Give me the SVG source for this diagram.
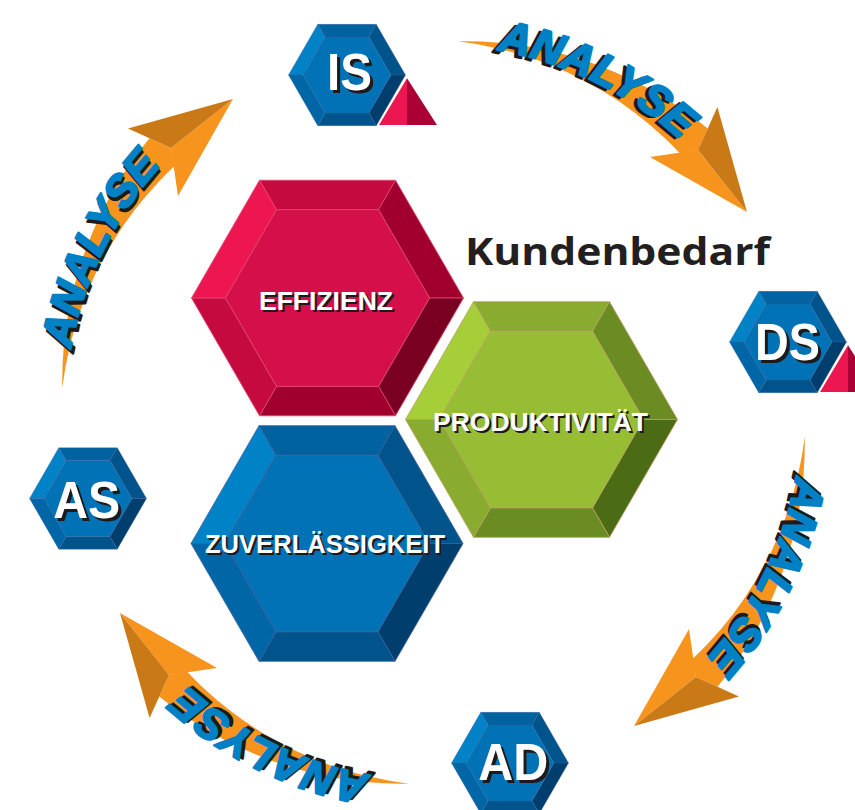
<svg xmlns="http://www.w3.org/2000/svg" xmlns:xlink="http://www.w3.org/1999/xlink" width="855" height="810" viewBox="0 0 855 810">
<style>
.hx polygon{stroke-width:0.8;stroke-linejoin:round}
.red polygon{stroke:#E0486E}
.red .t{fill:#C40A3F}.red .tr{fill:#A1002F}.red .br{fill:#7A0021}.red .b{fill:#A1002F}.red .bl{fill:#C40A3F}.red .tl{fill:#EE1651}.red .c{fill:#D40F4A}
.grn polygon{stroke:#B8A060}
.grn .t{fill:#89AB2F}.grn .tr{fill:#6B8B23}.grn .br{fill:#4C6B15}.grn .b{fill:#6B8B23}.grn .bl{fill:#89AB2F}.grn .tl{fill:#A6CE39}.grn .c{fill:#97BD34}
.blu polygon{stroke:#3A5E9A}
.blu .t{fill:#00629F}.blu .tr{fill:#00548C}.blu .br{fill:#003E6E}.blu .b{fill:#00548C}.blu .bl{fill:#0066A6}.blu .tl{fill:#0082C7}.blu .c{fill:#0072B5}
.lbl{font-family:"Liberation Sans",Arial,sans-serif;font-weight:bold;font-size:25.5px;text-anchor:middle}
.ab{font-size:51px}
.w{fill:#FFFFFF}
.sh{fill:#1E1A1B}
.an{font-family:"Liberation Sans",Arial,sans-serif;font-weight:bold;font-style:italic;font-size:44px;stroke-width:2.2;stroke-linejoin:round}
.anb{fill:#0080C5;stroke:#0080C5}
.ans{fill:#1E1A1B;stroke:#1E1A1B}
.ob{fill:#F7941E}
.od{fill:#C97A17}
.hx polygon.tri1{fill:#EC1651;stroke:none}
.hx polygon.tri2{fill:#AB0036;stroke:none}
.title{font-family:"Open Sans","Liberation Sans",sans-serif;font-weight:700;font-size:38px;fill:#231F20}
</style>
<defs>
<path id="tpb" d="M497.4,50.1 A368,368 0 0 1 715.4,176.0"/>
<path id="tps" d="M493.3,52.6 A365,365 0 0 1 713.1,177.9"/>
</defs>

<g id="connectors">
<g id="arrow1">
<path class="ob" d="M458.2,41.3 A376,376 0 0 1 498.7,42.7 A379,379 0 0 1 538.0,48.2 A382,382 0 0 1 576.8,58.0 A386,386 0 0 1 614.6,71.9 A389,389 0 0 1 651.2,89.8 A392,392 0 0 1 685.9,111.7 A394,394 0 0 1 707.7,128.5 L698,150 L680,153.5 A358,358 0 0 0 664.1,137.6 A360,360 0 0 0 635.4,113.2 A362,362 0 0 0 604.0,91.8 A364,364 0 0 0 570.4,73.7 A366,366 0 0 0 534.8,59.1 A369,369 0 0 0 497.7,48.4 A371,371 0 0 0 458.2,41.3 Z"/>
<polygon class="ob" points="650,157 747,212 698,150"/>
<polygon class="od" points="717.4,107 747,212 698,150"/>
<text class="an ans"><textPath href="#tps" xlink:href="#tps">ANALYSE</textPath></text>
<text class="an anb"><textPath href="#tpb" xlink:href="#tpb">ANALYSE</textPath></text>
</g>
<use href="#arrow1" xlink:href="#arrow1" transform="rotate(90 433.5 412.5)"/>
<use href="#arrow1" xlink:href="#arrow1" transform="rotate(180 433.5 412.5)"/>
<use href="#arrow1" xlink:href="#arrow1" transform="rotate(270 433.5 412.5)"/>
</g>

<g id="effizienz" class="hx red" transform="translate(327.5,298)">
<polygon class="t" points="-68,-117.8 68,-117.8 51,-88.3 -51,-88.3"/>
<polygon class="tr" points="68,-117.8 136,0 102,0 51,-88.3"/>
<polygon class="br" points="136,0 68,117.8 51,88.3 102,0"/>
<polygon class="b" points="68,117.8 -68,117.8 -51,88.3 51,88.3"/>
<polygon class="bl" points="-68,117.8 -136,0 -102,0 -51,88.3"/>
<polygon class="tl" points="-136,0 -68,-117.8 -51,-88.3 -102,0"/>
<polygon class="c" points="102,0 51,88.3 -51,88.3 -102,0 -51,-88.3 51,-88.3"/>
<text class="lbl sh" x="0.5" y="14" textLength="134" lengthAdjust="spacingAndGlyphs">EFFIZIENZ</text>
<text class="lbl w" x="-1.5" y="12" textLength="134" lengthAdjust="spacingAndGlyphs">EFFIZIENZ</text>
</g>

<g id="produktivitaet" class="hx grn" transform="translate(541.5,419.5)">
<polygon class="t" points="-68,-117.8 68,-117.8 51,-88.3 -51,-88.3"/>
<polygon class="tr" points="68,-117.8 136,0 102,0 51,-88.3"/>
<polygon class="br" points="136,0 68,117.8 51,88.3 102,0"/>
<polygon class="b" points="68,117.8 -68,117.8 -51,88.3 51,88.3"/>
<polygon class="bl" points="-68,117.8 -136,0 -102,0 -51,88.3"/>
<polygon class="tl" points="-136,0 -68,-117.8 -51,-88.3 -102,0"/>
<polygon class="c" points="102,0 51,88.3 -51,88.3 -102,0 -51,-88.3 51,-88.3"/>
<text class="lbl sh" x="1" y="13.5" textLength="215" lengthAdjust="spacingAndGlyphs">PRODUKTIVITÄT</text>
<text class="lbl w" x="-1" y="11.5" textLength="215" lengthAdjust="spacingAndGlyphs">PRODUKTIVITÄT</text>
</g>

<g id="zuverlaessigkeit" class="hx blu" transform="translate(327,543.5)">
<polygon class="t" points="-68,-117.8 68,-117.8 51,-88.3 -51,-88.3"/>
<polygon class="tr" points="68,-117.8 136,0 102,0 51,-88.3"/>
<polygon class="br" points="136,0 68,117.8 51,88.3 102,0"/>
<polygon class="b" points="68,117.8 -68,117.8 -51,88.3 51,88.3"/>
<polygon class="bl" points="-68,117.8 -136,0 -102,0 -51,88.3"/>
<polygon class="tl" points="-136,0 -68,-117.8 -51,-88.3 -102,0"/>
<polygon class="c" points="102,0 51,88.3 -51,88.3 -102,0 -51,-88.3 51,-88.3"/>
<text class="lbl sh" x="0" y="11.5" textLength="240" lengthAdjust="spacingAndGlyphs">ZUVERLÄSSIGKEIT</text>
<text class="lbl w" x="-2" y="9.5" textLength="240" lengthAdjust="spacingAndGlyphs">ZUVERLÄSSIGKEIT</text>
</g>

<g id="is" class="hx blu" transform="translate(347,75)">
<g transform="scale(0.43)">
<polygon class="t" points="-68,-117.8 68,-117.8 51,-88.3 -51,-88.3"/>
<polygon class="tr" points="68,-117.8 136,0 102,0 51,-88.3"/>
<polygon class="br" points="136,0 68,117.8 51,88.3 102,0"/>
<polygon class="b" points="68,117.8 -68,117.8 -51,88.3 51,88.3"/>
<polygon class="bl" points="-68,117.8 -136,0 -102,0 -51,88.3"/>
<polygon class="tl" points="-136,0 -68,-117.8 -51,-88.3 -102,0"/>
<polygon class="c" points="102,0 51,88.3 -51,88.3 -102,0 -51,-88.3 51,-88.3"/>
</g>
<polygon class="tri1" points="32,50 60,3.3 60,50"/>
<polygon class="tri2" points="60,3.3 90,50 60,50"/>
<text class="lbl ab sh" x="5.5" y="17.5" textLength="45" lengthAdjust="spacingAndGlyphs">IS</text>
<text class="lbl ab w" x="2.5" y="14.5" textLength="45" lengthAdjust="spacingAndGlyphs">IS</text>
</g>

<g id="ds" class="hx blu" transform="translate(788,342)">
<g transform="scale(0.43)">
<polygon class="t" points="-68,-117.8 68,-117.8 51,-88.3 -51,-88.3"/>
<polygon class="tr" points="68,-117.8 136,0 102,0 51,-88.3"/>
<polygon class="br" points="136,0 68,117.8 51,88.3 102,0"/>
<polygon class="b" points="68,117.8 -68,117.8 -51,88.3 51,88.3"/>
<polygon class="bl" points="-68,117.8 -136,0 -102,0 -51,88.3"/>
<polygon class="tl" points="-136,0 -68,-117.8 -51,-88.3 -102,0"/>
<polygon class="c" points="102,0 51,88.3 -51,88.3 -102,0 -51,-88.3 51,-88.3"/>
</g>
<polygon class="tri1" points="32,50 60,3.3 60,50"/>
<polygon class="tri2" points="60,3.3 90,50 60,50"/>
<text class="lbl ab sh" x="2.5" y="21" textLength="65" lengthAdjust="spacingAndGlyphs">DS</text>
<text class="lbl ab w" x="-0.5" y="18" textLength="65" lengthAdjust="spacingAndGlyphs">DS</text>
</g>

<g id="as" class="hx blu" transform="translate(88,498.5)">
<g transform="scale(0.43)">
<polygon class="t" points="-68,-117.8 68,-117.8 51,-88.3 -51,-88.3"/>
<polygon class="tr" points="68,-117.8 136,0 102,0 51,-88.3"/>
<polygon class="br" points="136,0 68,117.8 51,88.3 102,0"/>
<polygon class="b" points="68,117.8 -68,117.8 -51,88.3 51,88.3"/>
<polygon class="bl" points="-68,117.8 -136,0 -102,0 -51,88.3"/>
<polygon class="tl" points="-136,0 -68,-117.8 -51,-88.3 -102,0"/>
<polygon class="c" points="102,0 51,88.3 -51,88.3 -102,0 -51,-88.3 51,-88.3"/>
</g>
<text class="lbl ab sh" x="1.7" y="22.5" textLength="67" lengthAdjust="spacingAndGlyphs">AS</text>
<text class="lbl ab w" x="-1.3" y="19.5" textLength="67" lengthAdjust="spacingAndGlyphs">AS</text>
</g>

<g id="ad" class="hx blu" transform="translate(510,763)">
<g transform="scale(0.43)">
<polygon class="t" points="-68,-117.8 68,-117.8 51,-88.3 -51,-88.3"/>
<polygon class="tr" points="68,-117.8 136,0 102,0 51,-88.3"/>
<polygon class="br" points="136,0 68,117.8 51,88.3 102,0"/>
<polygon class="b" points="68,117.8 -68,117.8 -51,88.3 51,88.3"/>
<polygon class="bl" points="-68,117.8 -136,0 -102,0 -51,88.3"/>
<polygon class="tl" points="-136,0 -68,-117.8 -51,-88.3 -102,0"/>
<polygon class="c" points="102,0 51,88.3 -51,88.3 -102,0 -51,-88.3 51,-88.3"/>
</g>
<text class="lbl ab sh" x="6.3" y="20" textLength="70" lengthAdjust="spacingAndGlyphs">AD</text>
<text class="lbl ab w" x="3.3" y="17" textLength="70" lengthAdjust="spacingAndGlyphs">AD</text>
</g>

<g id="kundenbedarf">
<text class="title" x="465" y="265" textLength="305" lengthAdjust="spacingAndGlyphs">Kundenbedarf</text>
</g>
</svg>
